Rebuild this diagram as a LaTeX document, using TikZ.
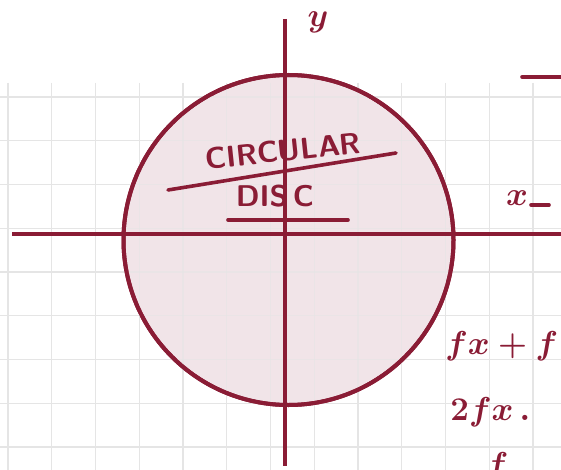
\documentclass[tikz,border=0pt]{standalone}
\usepackage{amsmath, amssymb}
\usepackage{tikz}
\usetikzlibrary{positioning}
\definecolor{ink}{HTML}{8A1C35}
\definecolor{discfill}{HTML}{F1E4E8}
\definecolor{gridgray}{HTML}{E5E5E5}
\tikzset{
  gridline/.style={draw=gridgray, line width=1.4pt},
  axisline/.style={draw=ink, line width=3.5pt},
  discedge/.style={draw=ink, line width=4pt, fill=discfill},
  stroke/.style={draw=ink, line width=3.6pt, line cap=round},
  handtext/.style={text=ink, inner sep=0pt, font=\sffamily\bfseries\fontsize{30}{30}\selectfont},
  handmath/.style={text=ink, inner sep=0pt, font=\Large\boldmath, scale=2.3}
}

\begin{document}
\begin{tikzpicture}[x=1pt, y=-1pt]
  \useasboundingbox (0,0) rectangle (561,470);
  \clip (0,0) rectangle (561,470);

  % squared paper
  \foreach \gx in {0,...,12}
    \draw[gridline] ({8+43.75*\gx},83) -- ({8+43.75*\gx},470);
  \foreach \gy in {0,...,8}
    \draw[gridline] (0,{97+43.75*\gy}) -- (561,{97+43.75*\gy});

  % the disc
  \draw[discedge] (288.5,240) circle[radius=165];
  \foreach \gx in {0,...,12}
    \draw[gridline, draw opacity=0.5] ({8+43.75*\gx},83) -- ({8+43.75*\gx},470);
  \foreach \gy in {0,...,8}
    \draw[gridline, draw opacity=0.5] (0,{97+43.75*\gy}) -- (561,{97+43.75*\gy});
  \draw[draw=ink, line width=4pt] (288.5,240) circle[radius=165];

  % axes
  \coordinate (xl) at (12,234);
  \coordinate (xr) at (561,234);
  \coordinate (yt) at (285,19);
  \coordinate (yb) at (285,466);
  \draw[axisline] (xl) -- (xr);
  \draw[axisline] (yt) -- (yb);
  \node[handmath] (ylabel) at (318,22) {$y$};
  \node[handmath] (xlabel) at (517,198) {$x$};
  \coordinate (xda) at (531,205);
  \coordinate (xdb) at (549,205);
  \draw[stroke] (xda) -- (xdb);

  % title inside the disc
  \node[handtext, rotate=6] (title) at (283,151) {CIRCULAR};
  \coordinate (ta) at (168,190);
  \coordinate (tb) at (396,153);
  \draw[stroke] (ta) -- (tb);
  \node[handtext] (disc) at (275,196) {DIS\,C};
  \coordinate (da) at (228,220);
  \coordinate (db) at (348,220);
  \draw[stroke] (da) -- (db);

  % top right mark
  \coordinate (ma) at (522,77);
  \coordinate (mb) at (561,77);
  \draw[stroke] (ma) -- (mb);

  % working on the right
  \node[handmath, anchor=west] (lineone) at (445,346) {$fx+f$};
  \node[handmath, anchor=west] (linetwo) at (450,412) {$2fx\,.$};
  \node[handmath, anchor=north] (linethree) at (497,452) {$f$};
\end{tikzpicture}
\end{document}
